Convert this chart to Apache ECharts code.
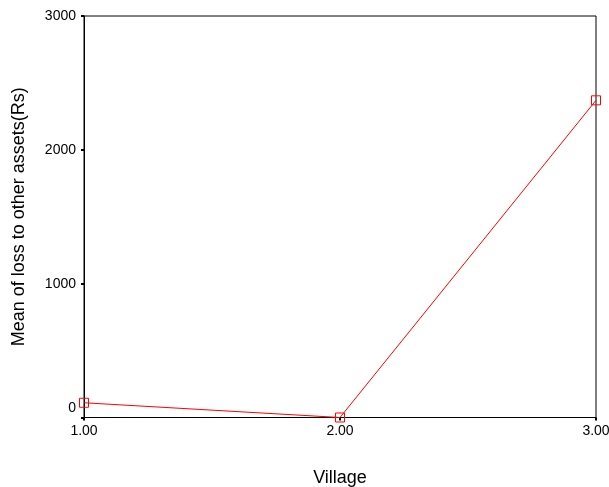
<!DOCTYPE html>
<html><head><meta charset="utf-8">
<script src="https://cdn.jsdelivr.net/npm/echarts@6/dist/echarts.min.js"></script>
<style>html,body{margin:0;padding:0;background:#fff;overflow:hidden}#c{width:609px;height:487px}</style>
</head><body><div id="c"></div>
<script>
const villages = [1, 2, 3];
const meanLoss = [110, 0, 2370];
const yTicks = [0, 1000, 2000, 3000];
const xTicks = [1, 2, 3];

const chart = echarts.init(document.getElementById('c'), null, {renderer: 'canvas'});
chart.setOption({
  animation: false,
  backgroundColor: '#fff',
  grid: {left: 84, right: 13, top: 16, bottom: 69.5, containLabel: false, outerBoundsMode: 'none',
    show: true, borderColor: '#000', borderWidth: 1, backgroundColor: 'transparent'},
  xAxis: {
    type: 'value', min: 1, max: 3, interval: 1,
    name: 'Village', nameLocation: 'middle', nameGap: 52,
    nameTextStyle: {fontFamily: 'Liberation Sans', fontSize: 18, color: '#000'},
    axisLine: {show: true, lineStyle: {color: '#000', width: 1}},
    axisTick: {show: true, length: 3, lineStyle: {color: '#000', width: 2}},
    axisLabel: {fontFamily: 'Liberation Sans', fontSize: 14, color: '#000', margin: 7,
      formatter: v => v.toFixed(2)},
    splitLine: {show: false}
  },
  yAxis: {
    type: 'value', min: 0, max: 3000, interval: 1000,
    name: 'Mean of loss to other assets(Rs)', nameLocation: 'middle', nameGap: 56,
    nameTextStyle: {fontFamily: 'Liberation Sans', fontSize: 18, color: '#000'},
    axisLine: {show: true, lineStyle: {color: '#000', width: 1}},
    axisTick: {show: true, length: 3, lineStyle: {color: '#000', width: 2}},
    axisLabel: {fontFamily: 'Liberation Sans', fontSize: 14, color: '#000', margin: 8,
      formatter: v => v === 0 ? '{z|0}' : String(v),
      rich: {z: {fontFamily: 'Liberation Sans', fontSize: 14, color: '#000', padding: [0, 0, 18, 0]}}},
    splitLine: {show: false}
  },
  series: [{
    type: 'line',
    data: villages.map((v, i) => [v, meanLoss[i]]),
    symbol: 'rect', symbolSize: 9, showAllSymbol: true,
    lineStyle: {color: '#ff0000', width: 1},
    itemStyle: {color: 'rgba(255,255,255,0)', borderColor: '#ff0000', borderWidth: 1},
    clip: false
  }]
});
</script></body></html>
